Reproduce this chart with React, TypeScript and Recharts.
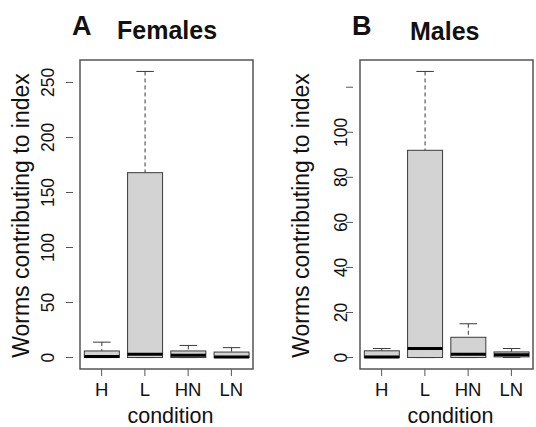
import { ComposedChart, Bar, XAxis, YAxis, ReferenceArea } from 'recharts'

const FONT = '"Liberation Sans", Arial, Helvetica, sans-serif'

const conditions = ['H', 'L', 'HN', 'LN']

// females: five-number summary per condition
const fMin = [0, 0, 0, 0]
const fQ1 = [0, 0, 0, 0]
const fMed = [1, 3, 2, 0.5]
const fQ3 = [6, 168, 6, 5]
const fMax = [14, 260, 11, 9]
const fTicks = [0, 50, 100, 150, 200, 250]
const fTickLabels = ['0', '50', '100', '150', '200', '250']

// males
const mMin = [0, 0, 0, 0]
const mQ1 = [0, 0, 0, 0.3]
const mMed = [0.3, 4, 1.5, 1.2]
const mQ3 = [3, 92, 9, 2.5]
const mMax = [4, 127, 15, 4]
const mTicks = [0, 20, 40, 60, 80, 100, 120]
const mTickLabels = ['0', '20', '40', '60', '80', '100', ''] // R drops the top label

type Row = { cond: string; lo: number; q1: number; med: number; q3: number; hi: number; range: [number, number] }

function buildRows(lo: number[], q1: number[], med: number[], q3: number[], hi: number[]): Row[] {
  return conditions.map((c, i) => ({
    cond: c, lo: lo[i], q1: q1[i], med: med[i], q3: q3[i], hi: hi[i], range: [lo[i], hi[i]],
  }))
}

// R's default 4% axis extension
function rDomain(lo: number[], hi: number[]): [number, number] {
  const a = Math.min(...lo), b = Math.max(...hi)
  const pad = (b - a) * 0.04
  return [a - pad, b + pad]
}

function BoxShape(props: any) {
  const { x, y, width, height, payload } = props
  const { lo, q1, med, q3, hi } = payload as Row
  const k = height / (hi - lo)
  const py = (v: number) => y + (hi - v) * k
  const cx = x + width / 2
  const cap = width / 4
  const stroke = '#3a3a3a'
  return (
    <g>
      <line x1={cx} x2={cx} y1={py(hi)} y2={py(q3)} stroke={stroke} strokeDasharray="4 3" />
      <line x1={cx - cap} x2={cx + cap} y1={py(hi)} y2={py(hi)} stroke={stroke} />
      {q1 > lo && <line x1={cx} x2={cx} y1={py(q1)} y2={py(lo)} stroke={stroke} strokeDasharray="4 3" />}
      <line x1={cx - cap} x2={cx + cap} y1={py(lo)} y2={py(lo)} stroke={stroke} />
      <rect x={x} y={py(q3)} width={width} height={Math.max(py(q1) - py(q3), 0)} fill="#d3d3d3" stroke={stroke} />
      <line x1={x} x2={x + width} y1={py(med)} y2={py(med)} stroke="#000" strokeWidth={3} />
    </g>
  )
}

function Panel({ rows, ticks, labels, labelX, left }: { rows: Row[]; ticks: number[]; labels: string[]; labelX: number; left: number }) {
  const domain = rDomain(rows.map(r => r.lo), rows.map(r => r.hi))
  const YTick = (p: any) => {
    const i = ticks.indexOf(p.payload.value)
    const t = labels[i] ?? ''
    return (
      <text x={labelX} y={p.y} transform={`rotate(-90 ${labelX} ${p.y})`} textAnchor="middle"
        dominantBaseline="central" fontSize={17.5} fill="#111" fontFamily={FONT}>{t}</text>
    )
  }
  return (
    <div style={{ position: 'absolute', left, top: 0 }}>
      <ComposedChart width={268} height={427} data={rows} margin={{ top: 60, right: 8, bottom: 0, left: 0 }}
        barCategoryGap="10%">
        <XAxis dataKey="cond" padding={{ left: 7, right: 7 }} axisLine={false} tickSize={7} tickMargin={7}
          tickLine={{ stroke: '#555' }} height={58} interval={0}
          tick={{ fontSize: 18.5, fill: '#111', fontFamily: FONT }}
          label={({ viewBox }: any) => (
            <text x={viewBox.x + viewBox.width / 2 + 4} y={423} textAnchor="middle" fontSize={21.5} fill="#111" fontFamily={FONT}>condition</text>
          )} />
        <YAxis type="number" domain={domain} allowDataOverflow ticks={ticks} width={73} axisLine={false}
          tickSize={7} tickLine={{ stroke: '#555' }} tick={YTick}
          label={({ viewBox }: any) => {
            const cx = 21, cy = viewBox.y + viewBox.height / 2 + 1
            return (
              <text x={cx} y={cy} transform={`rotate(-90 ${cx} ${cy})`} textAnchor="middle" dominantBaseline="central"
                fontSize={23} fill="#111" fontFamily={FONT}>Worms contributing to index</text>
            )
          }} />
        <ReferenceArea y1={domain[0]} y2={domain[1]} fill="none" stroke="#555" strokeWidth={1.5} ifOverflow="visible" />
        <Bar dataKey="range" shape={BoxShape} isAnimationActive={false} />
      </ComposedChart>
    </div>
  )
}

export default function App() {
  const females = buildRows(fMin, fQ1, fMed, fQ3, fMax)
  const males = buildRows(mMin, mQ1, mMed, mQ3, mMax)
  return (
    <div style={{ position: 'absolute', left: 0, top: 0, width: 536, height: 427, overflow: 'hidden', background: '#fff' }}>
      <Panel rows={females} ticks={fTicks} labels={fTickLabels} labelX={48} left={0} />
      <Panel rows={males} ticks={mTicks} labels={mTickLabels} labelX={61} left={280} />
      <svg width={536} height={50} style={{ position: 'absolute', left: 0, top: 0 }}>
        <g fontFamily={FONT} fontWeight="bold" fill="#111">
          <text x={72} y={35} fontSize={27}>A</text>
          <text x={117} y={39} fontSize={25}>Females</text>
          <text x={352} y={35} fontSize={27}>B</text>
          <text x={410} y={40} fontSize={25}>Males</text>
        </g>
      </svg>
    </div>
  )
}
